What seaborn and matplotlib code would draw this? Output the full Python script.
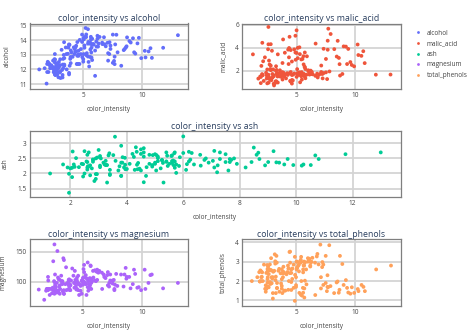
import numpy as np
import pandas as pd
import matplotlib
matplotlib.use("Agg")
import matplotlib.pyplot as plt
from matplotlib.lines import Line2D
import seaborn as sns

# Wine measurements: colour intensity against five chemical properties
color_intensity = [
    5.64, 4.38, 5.68, 7.8, 4.32, 6.75, 5.25, 5.05, 5.2, 7.22, 5.75, 5.0, 5.6, 5.4, 7.5, 7.3, 6.2, 6.6, 8.7, 5.1,
    5.65, 4.5, 3.8, 3.93, 3.52, 3.58, 4.8, 3.95, 4.5, 4.7, 5.7, 6.9, 3.84, 5.4, 4.2, 5.1, 4.6, 4.25, 3.7, 5.1,
    6.13, 4.28, 5.43, 4.36, 5.04, 5.24, 4.9, 6.1, 6.2, 8.9, 7.2, 5.6, 7.05, 6.3, 5.85, 6.25, 6.38, 6.0, 6.8,
    1.95, 3.27, 5.75, 3.8, 4.45, 2.95, 4.6, 5.3, 4.68, 3.17, 2.85, 3.05, 3.38, 3.74, 3.35, 3.21, 3.8, 4.6, 2.65,
    3.4, 2.57, 2.5, 3.9, 2.2, 4.8, 3.05, 2.62, 2.45, 2.6, 2.8, 1.74, 2.4, 3.6, 3.05, 2.15, 3.25, 2.6, 2.5, 2.9,
    4.5, 2.3, 3.3, 2.45, 2.8, 2.06, 2.94, 2.7, 3.4, 3.3, 2.7, 2.65, 2.9, 2.0, 3.8, 3.08, 2.9, 1.9, 1.95, 2.06,
    3.4, 1.28, 3.25, 6.0, 2.08, 2.6, 2.8, 2.76, 3.94, 3.0, 2.12, 2.6,
    4.1, 5.4, 5.7, 5.0, 5.45, 7.1, 3.85, 5.0, 5.7, 4.92, 4.6, 5.6, 4.35, 4.4, 8.21, 4.0, 4.9, 7.65, 8.42, 9.4,
    8.6, 10.8, 7.1, 10.52, 7.6, 7.9, 9.01, 7.5, 13.0, 11.75, 7.65, 5.88, 5.58, 5.28, 9.58, 6.62, 10.68, 10.26,
    8.66, 8.5, 5.5, 9.9, 9.7, 7.7, 7.3, 10.2, 9.3, 9.2,
]
alcohol = [
    14.23, 13.2, 13.16, 14.37, 13.24, 14.2, 14.39, 14.06, 14.83, 13.86, 14.1, 14.12, 13.75, 14.75, 14.38, 13.63,
    14.3, 13.83, 14.19, 13.64, 14.06, 12.93, 13.71, 12.85, 13.5, 13.05, 13.39, 13.3, 13.87, 14.02, 13.73, 13.58,
    13.68, 13.76, 13.51, 13.48, 13.28, 13.05, 13.07, 14.22, 13.56, 13.41, 13.88, 13.24, 13.05, 14.21, 14.38, 13.9,
    14.1, 13.94, 13.05, 13.83, 13.82, 13.77, 13.74, 13.56, 14.22, 13.29, 13.72,
    12.37, 12.33, 12.64, 13.67, 12.37, 12.17, 12.37, 13.11, 12.37, 13.34, 12.21, 12.29, 13.86, 13.49, 12.99, 11.96,
    11.66, 13.03, 11.84, 12.33, 12.7, 12.0, 12.72, 12.08, 13.05, 11.84, 12.67, 12.16, 11.65, 11.64, 12.08, 12.08,
    12.0, 12.69, 12.29, 11.62, 12.47, 11.81, 12.29, 12.37, 12.29, 12.08, 12.6, 12.34, 11.82, 12.51, 12.42, 12.25,
    12.72, 12.22, 11.61, 11.46, 12.52, 11.76, 11.41, 12.08, 11.03, 11.82, 12.42, 12.77, 12.0, 11.45, 11.56, 12.42,
    13.05, 11.87, 12.07, 12.43, 11.79, 12.37, 12.04,
    12.86, 12.88, 12.81, 12.7, 12.51, 12.6, 12.25, 12.53, 13.49, 12.84, 12.93, 13.36, 13.52, 13.62, 12.25, 13.16,
    13.88, 12.87, 13.32, 13.08, 13.5, 12.79, 13.11, 13.23, 12.58, 13.17, 13.84, 12.45, 14.34, 13.48, 12.36, 13.69,
    12.85, 12.96, 13.78, 13.73, 13.45, 12.82, 13.58, 13.4, 12.2, 12.77, 14.16, 13.71, 13.4, 13.27, 13.17, 14.13,
]
malic_acid = [
    1.71, 1.78, 2.36, 1.95, 2.59, 1.76, 1.87, 2.15, 1.64, 1.35, 2.16, 1.48, 1.73, 1.73, 1.87, 1.81, 1.92, 1.57,
    1.59, 3.1, 1.63, 3.8, 1.86, 1.6, 1.81, 2.05, 1.77, 1.72, 1.9, 1.68, 1.5, 1.66, 1.83, 1.53, 1.8, 1.81, 1.64,
    1.65, 1.5, 3.99, 1.71, 3.84, 1.89, 3.98, 1.77, 4.04, 3.59, 1.68, 2.02, 1.73, 1.73, 1.65, 1.75, 1.9, 1.67,
    1.73, 1.7, 1.97, 1.43,
    0.94, 1.1, 1.36, 1.25, 1.13, 1.45, 1.21, 1.01, 1.17, 0.94, 1.19, 1.61, 1.51, 1.66, 1.67, 1.09, 1.88, 0.9,
    2.89, 0.99, 3.87, 0.92, 1.81, 1.13, 3.86, 0.89, 0.98, 1.61, 1.67, 2.06, 1.33, 1.83, 1.51, 1.53, 2.83, 1.99,
    1.52, 2.12, 1.41, 1.07, 3.17, 2.08, 1.34, 2.45, 1.72, 1.73, 2.55, 1.73, 1.75, 1.29, 1.35, 3.74, 2.43, 2.68,
    0.74, 1.39, 1.51, 1.47, 1.61, 3.43, 3.43, 2.4, 2.05, 4.43, 5.8, 4.31, 2.16, 1.53, 2.13, 1.63, 4.3,
    1.35, 2.99, 2.31, 3.55, 1.24, 2.46, 4.72, 5.51, 3.59, 2.96, 2.81, 2.56, 3.17, 4.95, 3.88, 3.57, 5.04, 4.61,
    3.24, 3.9, 3.12, 2.67, 1.9, 3.3, 1.29, 5.19, 4.12, 3.03, 1.68, 1.67, 3.83, 3.26, 3.27, 3.45, 2.76, 4.36,
    3.7, 3.37, 2.58, 4.6, 3.03, 2.39, 2.51, 5.65, 3.91, 4.28, 2.59, 4.1,
]
ash = [
    2.43, 2.14, 2.67, 2.5, 2.87, 2.45, 2.45, 2.61, 2.17, 2.27, 2.3, 2.32, 2.41, 2.39, 2.38, 2.7, 2.72, 2.62,
    2.48, 2.56, 2.28, 2.65, 2.36, 2.52, 2.61, 3.22, 2.62, 2.14, 2.8, 2.21, 2.7, 2.36, 2.36, 2.7, 2.65, 2.41,
    2.84, 2.55, 2.1, 2.51, 2.31, 2.12, 2.59, 2.29, 2.1, 2.44, 2.28, 2.12, 2.4, 2.27, 2.04, 2.6, 2.42, 2.68,
    2.25, 2.46, 2.3, 2.68, 2.5,
    1.36, 2.28, 2.02, 1.92, 2.16, 2.53, 2.56, 1.7, 1.92, 2.36, 1.75, 2.21, 2.67, 2.24, 2.6, 2.3, 1.92, 1.71,
    2.23, 1.95, 2.4, 2.0, 2.2, 2.51, 2.32, 2.58, 2.24, 2.31, 2.62, 2.46, 2.3, 2.32, 2.42, 2.26, 2.22, 2.28,
    2.2, 2.74, 1.98, 2.1, 2.21, 1.7, 1.9, 2.46, 1.88, 1.98, 2.27, 2.12, 2.28, 1.94, 2.7, 1.82, 2.17, 2.92,
    2.5, 2.5, 2.2, 1.99, 2.19, 1.98, 2.0, 2.42, 3.23, 2.73, 2.13, 2.39, 2.17, 2.29, 2.78, 2.3, 2.38,
    2.32, 2.4, 2.4, 2.36, 2.25, 2.2, 2.54, 2.64, 2.19, 2.61, 2.7, 2.35, 2.72, 2.35, 2.2, 2.15, 2.23, 2.48,
    2.38, 2.36, 2.62, 2.48, 2.75, 2.28, 2.1, 2.32, 2.38, 2.64, 2.7, 2.64, 2.38, 2.54, 2.58, 2.35, 2.3, 2.26,
    2.6, 2.3, 2.69, 2.86, 2.32, 2.28, 2.48, 2.45, 2.48, 2.26, 2.37, 2.74,
]
magnesium = [
    127, 100, 101, 113, 118, 112, 96, 121, 97, 98, 105, 95, 89, 91, 102, 112, 120, 115, 108, 116, 126, 102,
    101, 95, 96, 124, 93, 94, 107, 96, 101, 106, 104, 132, 110, 100, 110, 98, 98, 128, 117, 90, 101, 103,
    107, 111, 102, 101, 103, 108, 92, 94, 111, 115, 118, 116, 118, 102, 108,
    88, 101, 100, 94, 87, 104, 98, 78, 78, 110, 151, 103, 86, 87, 139, 101, 97, 86, 112, 136, 101, 86, 86,
    78, 85, 94, 99, 90, 88, 84, 70, 81, 86, 80, 88, 98, 162, 134, 85, 88, 88, 97, 88, 98, 86, 85, 90, 80,
    84, 92, 94, 107, 88, 103, 88, 84, 85, 86, 108, 80, 87, 96, 119, 102, 86, 82, 85, 86, 92, 88, 80,
    122, 104, 98, 106, 85, 94, 89, 96, 88, 101, 96, 89, 97, 92, 112, 102, 80, 86, 92, 113, 123, 112, 116,
    98, 103, 93, 89, 97, 98, 89, 88, 107, 106, 106, 90, 88, 111, 88, 105, 112, 96, 86, 91, 95, 102, 120,
    120, 96,
]
total_phenols = [
    2.8, 2.65, 2.8, 3.85, 2.8, 3.27, 2.5, 2.6, 2.8, 2.98, 2.95, 2.2, 2.6, 3.1, 3.3, 2.85, 2.8, 2.95, 3.3,
    2.7, 3.0, 2.41, 2.61, 2.48, 2.53, 2.63, 2.85, 2.4, 2.95, 2.65, 3.0, 2.86, 2.42, 2.95, 2.35, 2.7, 2.6,
    2.45, 2.4, 3.0, 3.15, 2.45, 3.25, 2.64, 3.0, 2.85, 3.25, 3.1, 2.75, 2.88, 2.72, 2.45, 3.88, 3.0, 2.6,
    2.96, 3.2, 3.0, 3.4,
    1.98, 2.05, 2.02, 2.1, 3.5, 1.89, 2.42, 2.98, 2.11, 2.53, 1.85, 1.1, 2.95, 1.88, 3.3, 3.38, 1.61, 1.95,
    1.72, 1.9, 2.83, 2.42, 2.2, 2.0, 1.65, 2.2, 2.2, 1.78, 1.92, 1.95, 2.2, 1.6, 1.45, 1.38, 2.45, 3.02,
    2.5, 1.6, 2.55, 3.52, 2.85, 2.23, 1.45, 2.56, 2.5, 2.2, 1.68, 1.65, 1.38, 2.36, 2.74, 3.18, 2.55, 1.75,
    2.48, 2.56, 2.46, 1.98, 2.0, 1.63, 2.0, 2.9, 3.18, 2.2, 2.62, 2.86, 2.6, 2.74, 2.13, 2.22, 2.1,
    1.51, 1.3, 1.15, 1.7, 2.0, 1.62, 1.38, 1.79, 1.62, 2.32, 1.54, 1.4, 1.55, 2.0, 1.38, 1.5, 0.98, 1.7,
    1.93, 1.41, 1.4, 1.48, 2.2, 1.8, 1.48, 1.74, 1.8, 1.9, 2.8, 2.6, 2.3, 1.83, 1.65, 1.39, 1.35, 1.28,
    1.7, 1.48, 1.55, 1.98, 1.25, 1.39, 1.68, 1.68, 1.8, 1.59, 1.65, 2.05,
]

features = ["alcohol", "malic_acid", "ash", "magnesium", "total_phenols"]
feature_values = [alcohol, malic_acid, ash, magnesium, total_phenols]
palette = ["#636EFA", "#EF553B", "#00CC96", "#AB63FA", "#FFA15A"]

x_ticks = [[5, 10], [5, 10], [2, 4, 6, 8, 10, 12], [5, 10], [5, 10]]
y_ticks = [[11, 12, 13, 14, 15], [2, 4, 6], [1.5, 2, 2.5, 3], [100, 150], [1, 2, 3, 4]]
y_tick_labels = [["11", "12", "13", "14", "15"], ["2", "4", "6"], ["1.5", "2", "2.5", "3"],
                 ["100", "150"], ["1", "2", "3", "4"]]

long_df = pd.concat(
    [pd.DataFrame({"color_intensity": color_intensity, "value": vals, "feature": name})
     for name, vals in zip(features, feature_values)],
    ignore_index=True,
)

sns.set_theme(style="white")
text_color = "#2a3f5f"
plt.rcParams["font.family"] = ["Open Sans", "DejaVu Sans"]

W, H = 474, 331
fig = plt.figure(figsize=(W / 100, H / 100), dpi=100)


def box(left, top, right, bottom):
    return [left / W, 1 - bottom / H, (right - left) / W, (bottom - top) / H]


boxes = [
    box(30, 23.5, 188, 89),
    box(242, 23.5, 400.5, 89),
    box(29.5, 131, 400.5, 197),
    box(29.5, 239, 188, 305.5),
    box(242, 239, 400.5, 305.5),
]
x_limits = [(0.5, 13.85), (0.35, 13.85), (0.55, 13.7), (0.5, 13.85), (0.45, 13.8)]
y_limits = [(10.66, 15.14), (0.43, 6.1), (1.22, 3.41), (60.5, 171), (0.74, 4.17)]

small = 4.7
for i, name in enumerate(features):
    ax = fig.add_axes(boxes[i])
    sub = long_df[long_df["feature"] == name]
    sns.scatterplot(data=sub, x="color_intensity", y="value", hue="feature",
                    palette={name: palette[i]}, s=7.5, linewidth=0, alpha=1,
                    legend=False, ax=ax, zorder=3)
    ax.set_xlim(*x_limits[i])
    ax.set_ylim(*y_limits[i])
    ax.set_xticks(x_ticks[i])
    ax.set_yticks(y_ticks[i])
    ax.set_yticklabels(y_tick_labels[i])
    ax.grid(True, color="#d4d4d4", linewidth=1.3, zorder=0)
    ax.set_axisbelow(True)
    for sp in ax.spines.values():
        sp.set_color("#7f7f7f")
        sp.set_linewidth(0.9)
    ax.tick_params(axis="both", length=0, pad=2.2, labelsize=small, colors="#444444")
    ax.set_xlabel("color_intensity", fontsize=small, color="#444444", labelpad=5)
    ax.set_ylabel(name, fontsize=small, color="#444444", labelpad=6)
    ax.set_title(f"color_intensity vs {name}", fontsize=6.3, color=text_color, pad=1.5)

handles = [Line2D([0], [0], marker="o", linestyle="", markersize=2.0,
                  markerfacecolor=c, markeredgewidth=0) for c in palette]
fig.legend(handles, features, loc="upper left", bbox_to_anchor=(413 / W, 1 - 27 / H),
           frameon=False, fontsize=small, labelcolor="#444444", handlelength=0.8,
           handletextpad=0.9, labelspacing=0.55, borderaxespad=0)

fig.savefig("out.png", dpi=100)
